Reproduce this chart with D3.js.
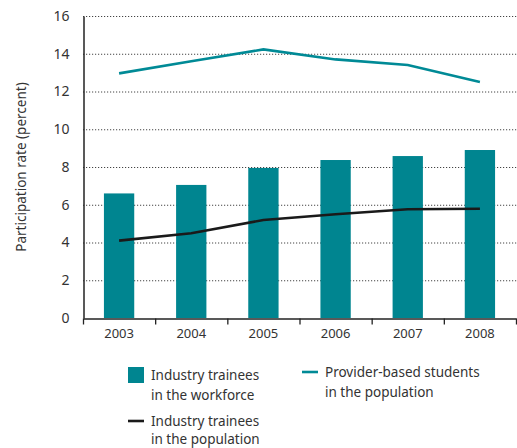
<!DOCTYPE html>
<html>
<head>
<meta charset="utf-8">
<script src="https://cdn.jsdelivr.net/npm/d3@7"></script>
<style>
  html, body { margin: 0; padding: 0; background: #fff; }
  svg { display: block; font-family: "Noto Sans", "Open Sans", sans-serif; }
</style>
</head>
<body>
<svg id="chart" width="517" height="448"></svg>
<script>
// Participation rates by year
const years = ["2003", "2004", "2005", "2006", "2007", "2008"];
const workforceTrainees = [6.6, 7.05, 7.95, 8.37, 8.58, 8.9];
const populationTrainees = [4.1, 4.49, 5.19, 5.5, 5.76, 5.79];
const providerStudents = [12.96, 13.6, 14.23, 13.7, 13.4, 12.5];
const yTicks = [0, 2, 4, 6, 8, 10, 12, 14, 16];

const teal = "#008590";
const lineTeal = "#008a96";
const ink = "#333";

const svg = d3.select("#chart");
const m = { left: 83, right: 517, top: 16, bottom: 318 };

const x = d3.scaleBand().domain(years).range([m.left, m.right - 1]).paddingInner(0.58).paddingOuter(0.29);
const xb = d3.scaleBand().domain(years).range([m.left, m.right - 1]);
const y = d3.scaleLinear().domain([0, 16]).range([m.bottom, m.top]);

// dotted gridlines
svg.append("g").selectAll("line")
  .data(yTicks.filter(d => d > 0))
  .join("line")
  .attr("x1", m.left).attr("x2", m.right)
  .attr("y1", d => y(d) + 0.5).attr("y2", d => y(d) + 0.5)
  .attr("stroke", "#444").attr("stroke-width", 1)
  .attr("stroke-dasharray", "1.2,1.8");

// bars: industry trainees in the workforce
svg.append("g").selectAll("rect")
  .data(years.map((yr, i) => ({ yr, v: workforceTrainees[i] })))
  .join("rect")
  .attr("x", d => x(d.yr))
  .attr("width", x.bandwidth())
  .attr("y", d => y(d.v))
  .attr("height", d => y(0) - y(d.v))
  .attr("fill", teal);

const cx = yr => xb(yr) + xb.bandwidth() / 2;
const line = d3.line().x(d => cx(d.yr)).y(d => y(d.v));

svg.append("path")
  .datum(years.map((yr, i) => ({ yr, v: providerStudents[i] })))
  .attr("d", line).attr("fill", "none")
  .attr("stroke", lineTeal).attr("stroke-width", 2.6);

svg.append("path")
  .datum(years.map((yr, i) => ({ yr, v: populationTrainees[i] })))
  .attr("d", line).attr("fill", "none")
  .attr("stroke", "#1a1a1a").attr("stroke-width", 2.6);

// y axis
const yAxis = svg.append("g")
  .attr("transform", `translate(${m.left + 0.5},0)`)
  .call(d3.axisLeft(y).tickValues(yTicks).tickSize(0).tickPadding(14));
yAxis.select(".domain").attr("stroke", "#222").attr("stroke-width", 1.5);
yAxis.selectAll("text").attr("font-size", 14).attr("fill", ink)
  .attr("font-family", "\"Noto Sans\", sans-serif");

// x axis
const xAxis = svg.append("g")
  .attr("transform", `translate(0,${m.bottom + 0.5})`)
  .call(d3.axisBottom(xb).tickSize(0).tickPadding(10));
xAxis.select(".domain").attr("stroke", "#222").attr("stroke-width", 1.5);
xAxis.selectAll("text").attr("font-size", 13).attr("fill", ink)
  .attr("font-family", "\"Noto Sans\", sans-serif");
xAxis.selectAll(".bnd")
  .data(years.map(yr => xb(yr)).concat([m.right - 1]))
  .join("line").attr("class", "bnd")
  .attr("x1", d => d + 0.5).attr("x2", d => d + 0.5)
  .attr("y1", 0).attr("y2", 6)
  .attr("stroke", "#222").attr("stroke-width", 1.3);

// y-axis title
svg.append("text")
  .attr("transform", `translate(22,${(m.top + m.bottom) / 2}) rotate(-90)`)
  .attr("text-anchor", "middle")
  .attr("dominant-baseline", "middle")
  .attr("font-size", 13.5).attr("fill", ink)
  .text("Participation rate (percent)");

// legend
const lg = svg.append("g").attr("font-size", 13.5).attr("fill", ink);
lg.append("rect").attr("x", 128).attr("y", 367).attr("width", 16).attr("height", 16).attr("fill", teal);
lg.append("text").attr("x", 151).attr("y", 380).text("Industry trainees");
lg.append("text").attr("x", 151).attr("y", 400).text("in the workforce");

lg.append("line").attr("x1", 128).attr("x2", 144).attr("y1", 421).attr("y2", 421)
  .attr("stroke", "#1a1a1a").attr("stroke-width", 2.6);
lg.append("text").attr("x", 151).attr("y", 426).text("Industry trainees");
lg.append("text").attr("x", 151).attr("y", 444).text("in the population");

lg.append("line").attr("x1", 302).attr("x2", 318).attr("y1", 372).attr("y2", 372)
  .attr("stroke", lineTeal).attr("stroke-width", 2.6);
lg.append("text").attr("x", 325).attr("y", 377).text("Provider-based students");
lg.append("text").attr("x", 325).attr("y", 397).text("in the population");
</script>
</body>
</html>
